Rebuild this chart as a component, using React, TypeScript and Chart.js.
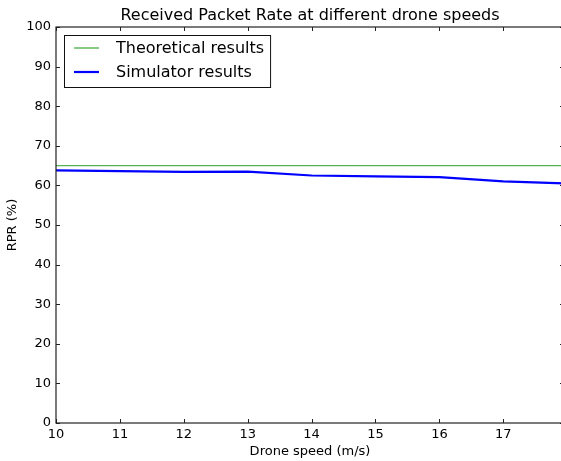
import React, { useEffect, useRef } from "react";
import { Chart, registerables } from "chart.js";

Chart.register(...registerables);

const TITLE = "Received Packet Rate at different drone speeds";
const X_TITLE = "Drone speed (m/s)";
const Y_TITLE = "RPR (%)";
const speeds = [10, 11, 12, 13, 14, 15, 16, 17, 18];
const theoretical = [65, 65, 65, 65, 65, 65, 65, 65, 65];
const simulator = [63.8, 63.6, 63.4, 63.5, 62.5, 62.3, 62.1, 61.0, 60.5];
const xTicks = [10, 11, 12, 13, 14, 15, 16, 17];
const yTicks = [0, 10, 20, 30, 40, 50, 60, 70, 80, 90, 100];
const X_MIN = 10;
const X_MAX = 17.95;
const FONT = "'DejaVu Sans', sans-serif";

const framePlugin = {
  id: "frame",
  afterDraw(chart: any) {
    const { ctx, chartArea } = chart;
    const { left, right, top, bottom } = chartArea;
    const xs = chart.scales.x;
    const ys = chart.scales.y;
    ctx.save();
    // ticks inward on all sides
    ctx.strokeStyle = "#222";
    ctx.lineWidth = 1;
    ctx.beginPath();
    for (const v of xTicks) {
      const px = Math.round(xs.getPixelForValue(v)) + 0.5;
      ctx.moveTo(px, bottom);
      ctx.lineTo(px, bottom - 4);
      ctx.moveTo(px, top);
      ctx.lineTo(px, top + 4);
    }
    for (const v of yTicks) {
      const py = Math.round(ys.getPixelForValue(v)) + 0.5;
      ctx.moveTo(left, py);
      ctx.lineTo(left + 4, py);
      ctx.moveTo(right, py);
      ctx.lineTo(right - 4, py);
    }
    ctx.stroke();
    // frame
    ctx.strokeStyle = "#222";
    ctx.lineWidth = 1.2;
    ctx.strokeRect(left, top, right - left, bottom - top);

    // title
    ctx.fillStyle = "#000";
    ctx.font = `16px ${FONT}`;
    ctx.textAlign = "center";
    ctx.textBaseline = "middle";
    ctx.fillText(TITLE, (left + right) / 2, 16);

    // legend
    const ds = chart.data.datasets;
    ctx.font = `16px ${FONT}`;
    let maxW = 0;
    for (const d of ds) maxW = Math.max(maxW, ctx.measureText(d.label).width);
    const bx = 64;
    const by = 35;
    const textX = 116;
    const bw = textX - bx + maxW + 6;
    const bh = 52;
    ctx.fillStyle = "#fff";
    ctx.fillRect(bx, by, bw, bh);
    ctx.strokeStyle = "#111";
    ctx.lineWidth = 1;
    ctx.strokeRect(bx + 0.5, by + 0.5, bw, bh);
    ds.forEach((d: any, i: number) => {
      const y = 48 + i * 24;
      ctx.strokeStyle = d.borderColor;
      ctx.lineWidth = d.borderWidth;
      ctx.beginPath();
      ctx.moveTo(74, y);
      ctx.lineTo(99, y);
      ctx.stroke();
      ctx.fillStyle = "#000";
      ctx.textAlign = "left";
      ctx.textBaseline = "middle";
      ctx.fillText(d.label, textX, y + 1);
    });
    ctx.restore();
  },
};

export default function App() {
  const ref = useRef<HTMLCanvasElement | null>(null);
  useEffect(() => {
    if (!ref.current) return;
    const chart = new Chart(ref.current, {
      type: "line",
      data: {
        datasets: [
          {
            label: "Theoretical results",
            data: speeds.map((s, i) => ({ x: s, y: theoretical[i] })),
            borderColor: "#55b355",
            borderWidth: 1.4,
            pointRadius: 0,
            tension: 0,
          },
          {
            label: "Simulator results",
            data: speeds.map((s, i) => ({ x: s, y: simulator[i] })),
            borderColor: "#0000ff",
            borderWidth: 2.2,
            pointRadius: 0,
            tension: 0,
          },
        ],
      },
      options: {
        responsive: false,
        animation: false,
        layout: { padding: { top: 27, left: 0, right: 2, bottom: 0 } },
        plugins: {
          legend: { display: false },
          title: { display: false },
          tooltip: { enabled: false },
        },
        scales: {
          x: {
            type: "linear",
            min: X_MIN,
            max: X_MAX,
            afterFit: (s: any) => {
              s.height = 38;
            },
            afterBuildTicks: (s: any) => {
              s.ticks = xTicks.map((v) => ({ value: v }));
            },
            grid: { display: true, drawOnChartArea: false, drawTicks: false, color: "transparent" },
            border: { display: false },
            ticks: {
              color: "#000",
              font: { family: FONT, size: 13 },
              padding: 4,
              maxRotation: 0,
              autoSkip: false,
            },
            title: {
              display: true,
              text: X_TITLE,
              color: "#000",
              font: { family: FONT, size: 13 },
              padding: { top: 0, bottom: 2 },
            },
          },
          y: {
            type: "linear",
            min: 0,
            max: 100,
            afterFit: (s: any) => {
              s.width = 56;
            },
            afterBuildTicks: (s: any) => {
              s.ticks = yTicks.map((v) => ({ value: v }));
            },
            grid: { display: true, drawOnChartArea: false, drawTicks: false, color: "transparent" },
            border: { display: false },
            ticks: {
              color: "#000",
              font: { family: FONT, size: 13 },
              padding: 5,
              autoSkip: false,
            },
            title: {
              display: true,
              text: Y_TITLE,
              color: "#000",
              font: { family: FONT, size: 13 },
              padding: { top: 5, bottom: 0 },
            },
          },
        },
      },
      plugins: [framePlugin],
    });
    return () => chart.destroy();
  }, []);
  return (
    <div
      style={{
        position: "absolute",
        left: 0,
        top: 0,
        width: 561,
        height: 461,
        overflow: "hidden",
        background: "#fff",
      }}
    >
      <canvas ref={ref} width={566} height={461} style={{ width: 566, height: 461, display: "block" }} />
    </div>
  );
}
